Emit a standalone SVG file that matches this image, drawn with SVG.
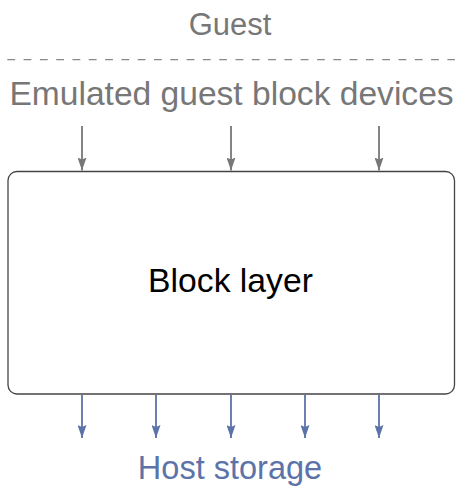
<svg xmlns="http://www.w3.org/2000/svg" width="468" height="494" viewBox="0 0 468 494">
<defs>
<style>
text{font-family:"Liberation Sans",Arial,sans-serif;text-anchor:middle}
.g{fill:#777777}
.b{fill:#5b73a8}
.k{fill:#000000}
.ga{stroke:#777777;stroke-width:1.8;fill:none}
.ba{stroke:#5b73a8;stroke-width:1.8;fill:none}
</style>
<marker id="ag" viewBox="0 0 13 9" refX="13" refY="4.5" markerWidth="13" markerHeight="9" markerUnits="userSpaceOnUse" orient="auto"><path d="M0,0 L13,4.5 L0,9 L2,4.5 Z" fill="#777777"/></marker>
<marker id="ab" viewBox="0 0 13 9" refX="13" refY="4.5" markerWidth="13" markerHeight="9" markerUnits="userSpaceOnUse" orient="auto"><path d="M0,0 L13,4.5 L0,9 L2,4.5 Z" fill="#5b73a8"/></marker>
</defs>
<rect width="468" height="494" fill="#ffffff"/>
<g id="guest">
<text class="g" x="230" y="35" font-size="31">Guest</text>
<line x1="7.3" y1="59.6" x2="455" y2="59.6" stroke="#888888" stroke-width="1.3" stroke-dasharray="7.8 8.5"/>
</g>
<g id="emulated">
<text class="g" x="231.5" y="105" font-size="33.6">Emulated guest block devices</text>
</g>
<g id="block-layer">
<rect x="8" y="171.5" width="446.5" height="222.5" rx="9" fill="#ffffff" stroke="#444444" stroke-width="1.3"/>
<text class="k" x="230.5" y="292" font-size="33.7">Block layer</text>
</g>
<g id="host-storage">
<text class="b" x="230" y="479" font-size="32.5">Host storage</text>
</g>
<g id="connectors">
<line class="ga" x1="82" y1="126" x2="82" y2="170.5" marker-end="url(#ag)"/>
<line class="ga" x1="231" y1="126" x2="231" y2="170.5" marker-end="url(#ag)"/>
<line class="ga" x1="379" y1="126" x2="379" y2="170.5" marker-end="url(#ag)"/>
<line class="ba" x1="82" y1="395" x2="82" y2="438" marker-end="url(#ab)"/>
<line class="ba" x1="156" y1="395" x2="156" y2="438" marker-end="url(#ab)"/>
<line class="ba" x1="231" y1="395" x2="231" y2="438" marker-end="url(#ab)"/>
<line class="ba" x1="305" y1="395" x2="305" y2="438" marker-end="url(#ab)"/>
<line class="ba" x1="379" y1="395" x2="379" y2="438" marker-end="url(#ab)"/>
</g>
</svg>
